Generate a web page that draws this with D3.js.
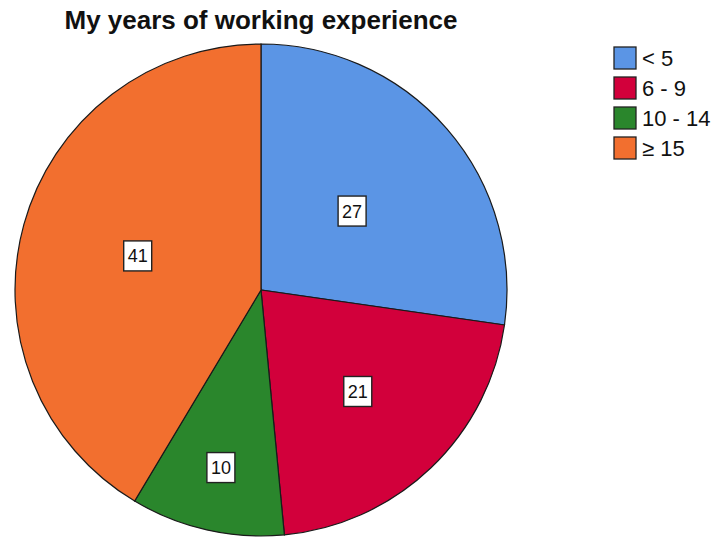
<!DOCTYPE html>
<html>
<head>
<meta charset="utf-8">
<script src="https://cdn.jsdelivr.net/npm/d3@7"></script>
<style>
  html, body { margin: 0; padding: 0; background: #fff; }
  svg { display: block; font-family: "Liberation Sans", Arial, sans-serif; }
</style>
</head>
<body>
<svg id="chart" width="716" height="538"></svg>
<script>
const title = "My years of working experience";
const categories = ["< 5", "6 - 9", "10 - 14", "\u2265 15"];
const values = [27, 21, 10, 41];
const colors = ["#5b95e5", "#d2003b", "#2a862c", "#f26f2f"];

const svg = d3.select("#chart");
const cx = 261, cy = 290, radius = 246;

svg.append("text")
  .attr("x", cx).attr("y", 29)
  .attr("text-anchor", "middle")
  .attr("font-size", 26).attr("font-weight", "bold")
  .attr("fill", "#111")
  .text(title);

const pie = d3.pie().sort(null).value(d => d)(values);
const arc = d3.arc().innerRadius(0).outerRadius(radius);

const g = svg.append("g").attr("transform", `translate(${cx},${cy})`);

g.selectAll("path.slice")
  .data(pie)
  .join("path")
  .attr("class", "slice")
  .attr("d", arc)
  .attr("fill", (d, i) => colors[i])
  .attr("stroke", "#1a1a1a")
  .attr("stroke-width", 1.2);

// label distance from the centre, as a share of the radius, per slice
const labelDist = [0.49, 0.57, 0.74, 0.52];

const labels = g.selectAll("g.lbl")
  .data(pie)
  .join("g")
  .attr("class", "lbl")
  .attr("transform", (d, i) => {
    const a = (d.startAngle + d.endAngle) / 2;
    const r = radius * labelDist[i];
    return `translate(${r * Math.sin(a)},${-r * Math.cos(a)})`;
  });

labels.append("rect")
  .attr("x", -14).attr("y", -15)
  .attr("width", 28).attr("height", 30)
  .attr("fill", "#fff")
  .attr("stroke", "#222")
  .attr("stroke-width", 1.4);

labels.append("text")
  .attr("text-anchor", "middle")
  .attr("dy", "0.36em")
  .attr("font-size", 18)
  .attr("fill", "#111")
  .text(d => d.data);

// legend
const legend = svg.append("g").attr("transform", "translate(614,47)");
const rows = legend.selectAll("g")
  .data(categories)
  .join("g")
  .attr("transform", (d, i) => `translate(0,${i * 30})`);

rows.append("rect")
  .attr("width", 22).attr("height", 22)
  .attr("fill", (d, i) => colors[i])
  .attr("stroke", "#222")
  .attr("stroke-width", 1.3);

rows.append("text")
  .attr("x", 28).attr("y", 11)
  .attr("dy", "0.36em")
  .attr("font-size", 22)
  .attr("fill", "#111")
  .text(d => d);
</script>
</body>
</html>
